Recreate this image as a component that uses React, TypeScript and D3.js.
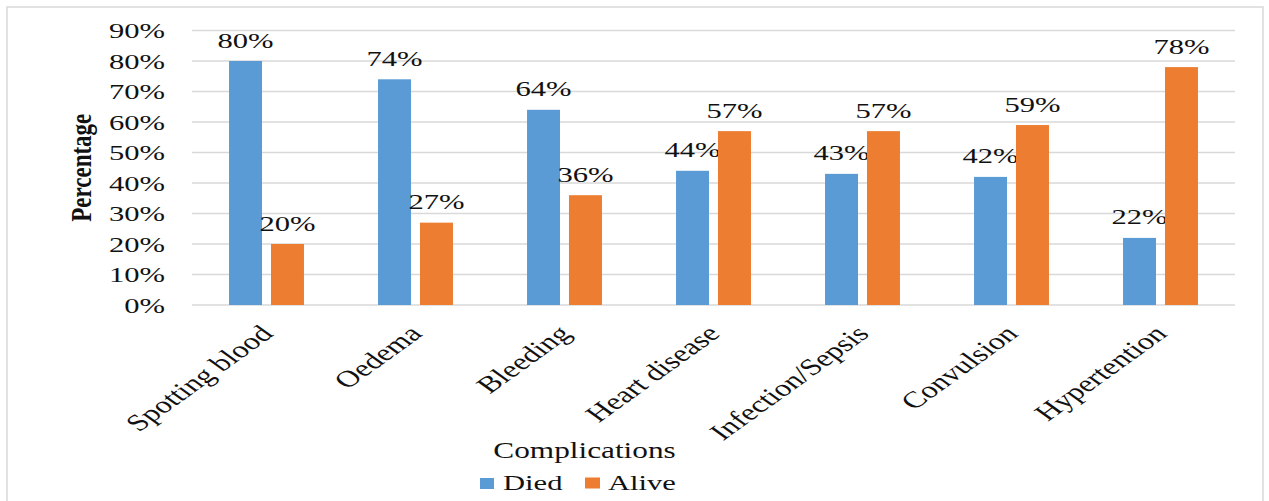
import React from "react";
import * as d3 from "d3";

// Complications among cases, split by outcome (percent)
const categories = [
  "Spotting blood",
  "Oedema",
  "Bleeding",
  "Heart disease",
  "Infection/Sepsis",
  "Convulsion",
  "Hypertention",
];
const died = [80, 74, 64, 44, 43, 42, 22];
const alive = [20, 27, 36, 57, 57, 59, 78];
const seriesNames = ["Died", "Alive"];
const seriesColors = ["#5B9BD5", "#ED7D31"];
const yTicks = [0, 10, 20, 30, 40, 50, 60, 70, 80, 90];

const W = 1269;
const H = 501;
// Horizontal stretch applied to all glyphs (wide layout)
const SX = 1.39;
const FONT = "Liberation Serif, Times New Roman, Times, serif";
const INK = "#111111";
const GRID = "#d9d9d9";

const plot = { left: 192, right: 1235, top: 30.5, bottom: 305 };

function Label({
  x,
  y,
  rot,
  anchor = "middle",
  size = 22,
  weight = "normal",
  sx = SX,
  children,
}: {
  x: number;
  y: number;
  rot?: number;
  anchor?: string;
  size?: number;
  weight?: string;
  sx?: number;
  children: React.ReactNode;
}) {
  const t = `translate(${x},${y}) scale(${sx},1)${rot ? ` rotate(${rot})` : ""}`;
  return (
    <text
      transform={t}
      textAnchor={anchor as any}
      style={{ fontFamily: FONT, fontSize: size, fontWeight: weight as any }}
      fill={INK}
    >
      {children}
    </text>
  );
}

export default function App() {
  const x0 = d3
    .scaleBand<string>()
    .domain(categories)
    .range([plot.left, plot.right])
    .paddingInner(0.497)
    .paddingOuter(0.2485);
  const x1 = d3
    .scaleBand<string>()
    .domain(seriesNames)
    .range([0, x0.bandwidth()])
    .paddingInner(0.214)
    .paddingOuter(0);
  const y = d3.scaleLinear().domain([0, 90]).range([plot.bottom, plot.top]);
  const fmt = (v: number) => `${v}%`;
  const values = [died, alive];

  return (
    <svg
      width={W}
      height={H}
      style={{ position: "absolute", left: 0, top: 0, background: "#fff" }}
    >
      <rect x={0} y={0} width={W} height={H} fill="#fff" />
      <rect
        x={7}
        y={7}
        width={1256}
        height={H + 10}
        fill="none"
        stroke={GRID}
        strokeWidth={1.5}
      />

      {/* gridlines */}
      {yTicks.map((t) => (
        <line
          key={t}
          x1={plot.left}
          x2={plot.right}
          y1={y(t)}
          y2={y(t)}
          stroke={GRID}
          strokeWidth={1.4}
        />
      ))}

      {/* y tick labels */}
      {yTicks.map((t) => (
        <Label key={t} x={165} y={y(t) + 7.5} anchor="end">
          {fmt(t)}
        </Label>
      ))}

      {/* bars and value labels */}
      {categories.map((c, i) => (
        <g key={c}>
          {seriesNames.map((s, j) => {
            const v = values[j][i];
            const bx = (x0(c) as number) + (x1(s) as number);
            const bw = x1.bandwidth();
            return (
              <g key={s}>
                <rect
                  x={bx}
                  y={y(v)}
                  width={bw}
                  height={y(0) - y(v)}
                  fill={seriesColors[j]}
                />
                <Label x={bx + bw / 2} y={y(v) - 13.5}>
                  {fmt(v)}
                </Label>
              </g>
            );
          })}
        </g>
      ))}

      {/* category labels */}
      {categories.map((c) => (
        <Label
          key={c}
          x={(x0(c) as number) + x0.bandwidth() / 2 + 8}
          y={335}
          rot={-45}
          anchor="end"
          size={23.3}
        >
          {c}
        </Label>
      ))}

      {/* axis titles */}
      <Label x={90.5} y={(plot.top + plot.bottom) / 2} rot={-90} size={23} weight="bold" sx={1.3}>
        Percentage
      </Label>
      <Label x={584.5} y={458} size={22.5}>
        Complications
      </Label>

      {/* legend */}
      <rect x={480} y={478} width={14} height={11} fill={seriesColors[0]} />
      <Label x={503} y={490} anchor="start">
        {seriesNames[0]}
      </Label>
      <rect x={585} y={477.5} width={15} height={11} fill={seriesColors[1]} />
      <Label x={608} y={490} anchor="start">
        {seriesNames[1]}
      </Label>
    </svg>
  );
}
